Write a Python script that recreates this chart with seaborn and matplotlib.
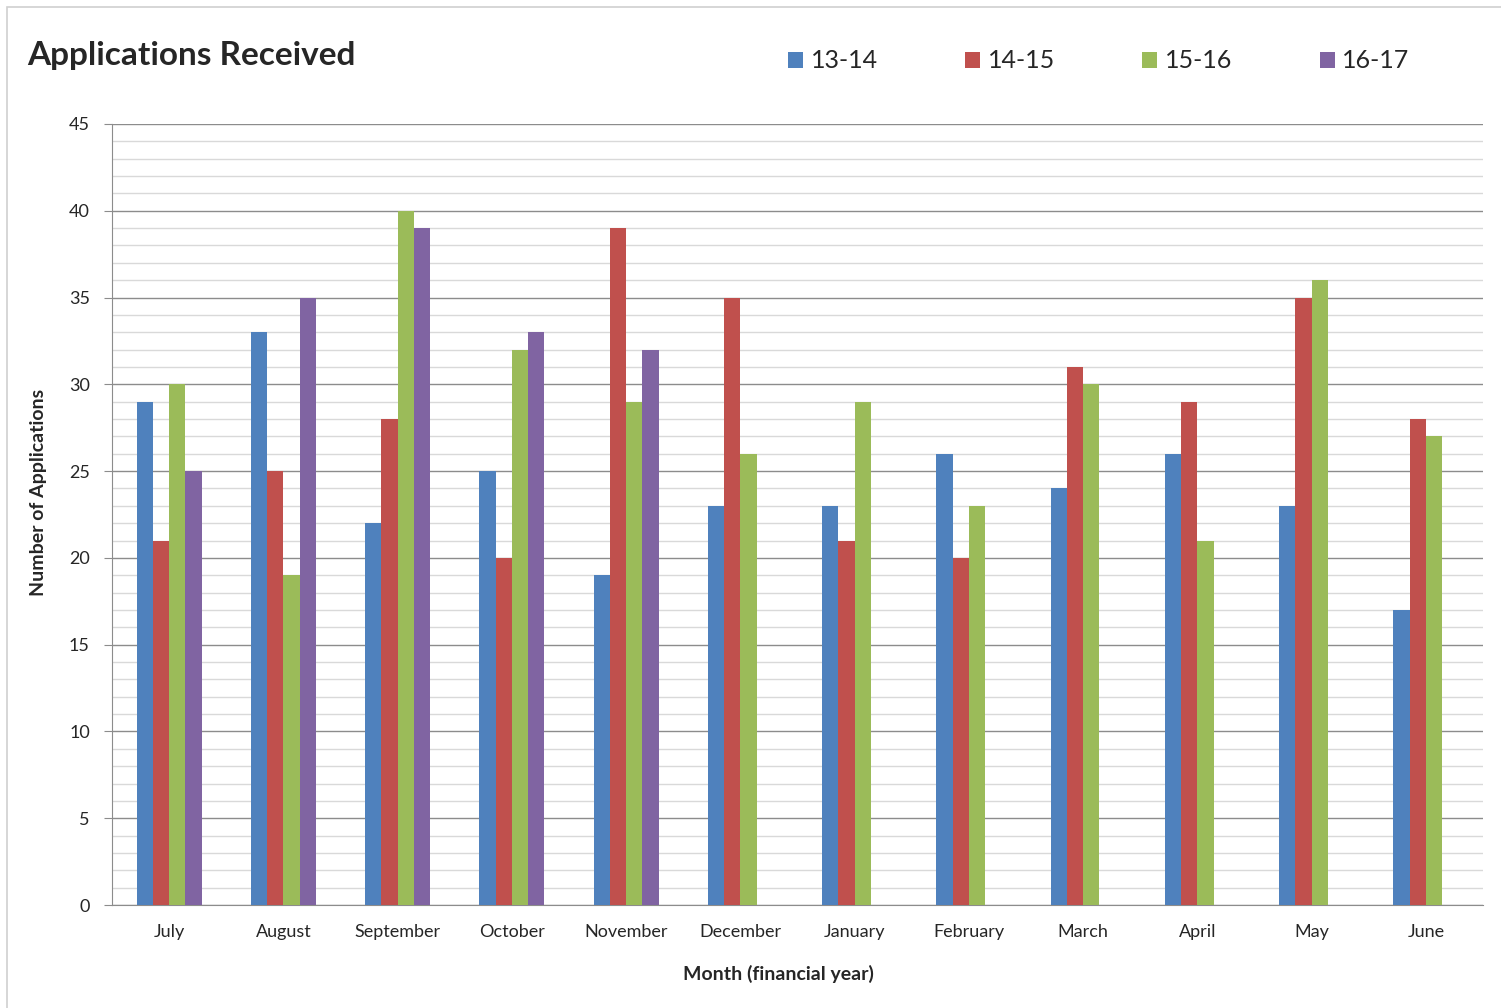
import numpy as np
import pandas as pd
import matplotlib
matplotlib.use("Agg")
import matplotlib.pyplot as plt
import seaborn as sns
from matplotlib.ticker import MultipleLocator
from matplotlib.patches import Rectangle

months = ["July", "August", "September", "October", "November", "December",
          "January", "February", "March", "April", "May", "June"]
years = ["13-14", "14-15", "15-16", "16-17"]
fy_13_14 = [29, 33, 22, 25, 19, 23, 23, 26, 24, 26, 23, 17]
fy_14_15 = [21, 25, 28, 20, 39, 35, 21, 20, 31, 29, 35, 28]
fy_15_16 = [30, 19, 40, 32, 29, 26, 29, 23, 30, 21, 36, 27]
fy_16_17 = [25, 35, 39, 33, 32, np.nan, np.nan, np.nan, np.nan, np.nan, np.nan, np.nan]
colors = ["#4F81BD", "#C0504D", "#9BBB59", "#8064A2"]

# long-form table for seaborn
rows = []
for yr, vals in zip(years, [fy_13_14, fy_14_15, fy_15_16, fy_16_17]):
    for m, v in zip(months, vals):
        rows.append({"month": m, "year": yr, "apps": v})
df = pd.DataFrame(rows).dropna()

sns.set_style("white")
plt.rcParams["font.family"] = ["Lato", "DejaVu Sans"]

fig = plt.figure(figsize=(15.01, 10.08), dpi=100)
ax = fig.add_axes([112 / 1501, 1 - 905 / 1008, (1483 - 112) / 1501, (905 - 124) / 1008])

sns.barplot(data=df, x="month", y="apps", hue="year", order=months, hue_order=years,
            palette=colors, width=0.57, gap=0, saturation=1, errorbar=None,
            linewidth=0, ax=ax, zorder=3)

ax.set_ylim(0, 45)
ax.set_xlim(-0.5, 11.5)
ax.yaxis.set_major_locator(MultipleLocator(5))
ax.yaxis.set_minor_locator(MultipleLocator(1))
ax.grid(axis="y", which="major", color="#8C8C8C", linewidth=1.0, zorder=0)
ax.grid(axis="y", which="minor", color="#D9D9D9", linewidth=1.0, zorder=0)
ax.set_axisbelow(True)

for s in ["top", "right"]:
    ax.spines[s].set_visible(False)
ax.spines["left"].set_color("#8C8C8C")
ax.spines["bottom"].set_color("#8C8C8C")
ax.tick_params(axis="y", which="major", left=True, length=6, color="#8C8C8C",
               labelsize=13, pad=10)
ax.tick_params(axis="y", which="minor", left=False)
ax.tick_params(axis="x", bottom=False, labelsize=13, pad=10)

ax.set_xlabel("Month (financial year)", fontsize=14, fontweight="bold")
ax.set_ylabel("Number of Applications", fontsize=14, fontweight="bold")
ax.xaxis.set_label_coords((778 - 112) / 1371, -(965 - 905) / 781)
ax.yaxis.set_label_coords((47 - 112) / 1371, (905 - 492) / 781)

fig.text(27 / 1501, 1 - 55 / 1008, "Applications Received", fontsize=24,
         fontweight="bold", va="center", ha="left")

handles, labels = ax.get_legend_handles_labels()
ax.get_legend().remove()
fig.legend(handles, labels, loc="center left", bbox_to_anchor=(778 / 1501, 1 - 61 / 1008),
           ncol=4, frameon=False, fontsize=18, handlelength=0.6, handleheight=0.6,
           handletextpad=0.3, columnspacing=3.5, borderaxespad=0)

# chart frame
fig.patches.append(Rectangle((7 / 1501, -0.1), 1.2, 1 - 7 / 1008 + 0.1, transform=fig.transFigure,
                             fill=False, edgecolor="#D0D0D0", linewidth=1.2))

fig.savefig("out.png", dpi=100)
